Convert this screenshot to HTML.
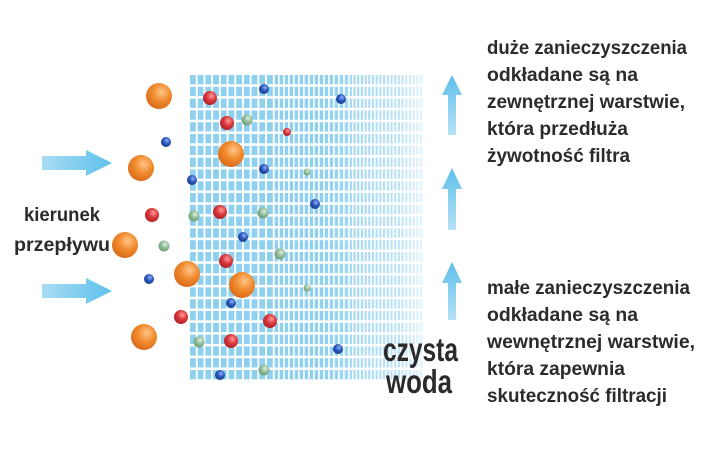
<!DOCTYPE html>
<html><head><meta charset="utf-8"><style>
html,body{margin:0;padding:0;background:#fff;width:720px;height:451px;overflow:hidden}
svg{display:block}
text{font-family:"Liberation Sans","DejaVu Sans",sans-serif;fill:#2b2b2b}
</style></head><body>
<svg id="s" width="720" height="451" xmlns="http://www.w3.org/2000/svg">
<defs>
<linearGradient id="ha" x1="0" x2="1"><stop offset="0" stop-color="#a8dcf3"/><stop offset="1" stop-color="#5ec0ea"/></linearGradient>
<linearGradient id="va" x1="0" y1="1" x2="0" y2="0"><stop offset="0" stop-color="#b5e1f5"/><stop offset="1" stop-color="#5ec0ea"/></linearGradient>
<linearGradient id="fade" x1="0" x2="1"><stop offset="0" stop-color="#fff" stop-opacity="0"/><stop offset="1" stop-color="#fff" stop-opacity="0.85"/></linearGradient>
<radialGradient id="go" cx="0.6" cy="0.35" r="0.7"><stop offset="0" stop-color="#ffc58a"/><stop offset="0.5" stop-color="#f08a2c"/><stop offset="1" stop-color="#d9691a"/></radialGradient>
<radialGradient id="gr" cx="0.6" cy="0.35" r="0.7"><stop offset="0" stop-color="#ff9a9a"/><stop offset="0.5" stop-color="#d8363a"/><stop offset="1" stop-color="#a8202a"/></radialGradient>
<radialGradient id="gb" cx="0.6" cy="0.35" r="0.7"><stop offset="0" stop-color="#8fb0ff"/><stop offset="0.5" stop-color="#2a56b8"/><stop offset="1" stop-color="#163a88"/></radialGradient>
<radialGradient id="gg" cx="0.6" cy="0.35" r="0.7"><stop offset="0" stop-color="#e0f0e0"/><stop offset="0.5" stop-color="#90bb98"/><stop offset="1" stop-color="#6a9a74"/></radialGradient>
</defs>
<g id="grid"></g>
<rect x="400" y="72" width="45" height="314" fill="url(#fade)"/>
<g fill="url(#ha)">
<polygon points="42,156 86,156 86,150 112,163 86,176 86,170 42,170"/>
<polygon points="42,284 86,284 86,278 112,291 86,304 86,298 42,298"/>
</g>
<g fill="url(#va)">
<polygon points="448,135 448,95 442,95 452,75 462,95 456,95 456,135"/>
<polygon points="448,230 448,189 442,189 452,168 462,189 456,189 456,230"/>
<polygon points="448,320 448,283 442,283 452,262 462,283 456,283 456,320"/>
</g>
<g id="p"></g>
<g font-size="19" font-weight="bold" lengthAdjust="spacingAndGlyphs">
<text x="24" y="221" textLength="76" lengthAdjust="spacingAndGlyphs">kierunek</text>
<text x="14" y="251" textLength="96" lengthAdjust="spacingAndGlyphs">przepływu</text>
<text x="487" y="54" textLength="200" lengthAdjust="spacingAndGlyphs">duże zanieczyszczenia</text>
<text x="487" y="81" textLength="151" lengthAdjust="spacingAndGlyphs">odkładane są na</text>
<text x="487" y="108" textLength="198" lengthAdjust="spacingAndGlyphs">zewnętrznej warstwie,</text>
<text x="487" y="135" textLength="141" lengthAdjust="spacingAndGlyphs">która przedłuża</text>
<text x="487" y="162" textLength="143" lengthAdjust="spacingAndGlyphs">żywotność filtra</text>
<text x="487" y="294" textLength="203" lengthAdjust="spacingAndGlyphs">małe zanieczyszczenia</text>
<text x="487" y="321" textLength="151" lengthAdjust="spacingAndGlyphs">odkładane są na</text>
<text x="487" y="348" textLength="208" lengthAdjust="spacingAndGlyphs">wewnętrznej warstwie,</text>
<text x="487" y="375" textLength="138" lengthAdjust="spacingAndGlyphs">która zapewnia</text>
<text x="487" y="402" textLength="180" lengthAdjust="spacingAndGlyphs">skuteczność filtracji</text>
</g>
<text x="383" y="361" font-size="33" font-weight="bold" textLength="75" lengthAdjust="spacingAndGlyphs">czysta</text>
<text x="386" y="393" font-size="33" font-weight="bold" textLength="66" lengthAdjust="spacingAndGlyphs">woda</text>
</svg>
<script>
var g=document.getElementById("grid"),h="";
var cols=[],x=190;
while(x<420){var p,w;if(x<272){p=7.7;w=5.8}else if(x<345){p=5;w=3.4}else{p=3.7;w=2.2}
var o=x<320?1:Math.max(0.45,1-(x-320)/180);cols.push([x,w,o]);x+=p;}
for(var r=0;r<26;r++){var y=75+r*11.8;cols.forEach(function(c){h+='<rect x="'+c[0].toFixed(1)+'" y="'+y.toFixed(1)+'" width="'+c[1]+'" height="9.3" fill="#8fd0ef" opacity="'+c[2].toFixed(2)+'"/>';});}
g.innerHTML=h;
var P=[["go",13,[[159,96],[141,168],[125,245],[187,274],[242,285],[144,337],[231,154]]],
["gr",7,[[210,98],[227,123],[152,215],[220,212],[226,261],[181,317],[270,321],[231,341]]],
["gr",4,[[287,132]]],
["gb",5,[[264,89],[341,99],[166,142],[192,180],[264,169],[315,204],[243,237],[149,279],[231,303],[220,375],[338,349]]],
["gg",5.5,[[247,120],[194,216],[263,213],[164,246],[280,254],[199,342],[264,370]]],
["gg",3.5,[[307,172],[307,288]]]];
var s="";P.forEach(function(q){q[2].forEach(function(c){s+='<circle cx="'+c[0]+'" cy="'+c[1]+'" r="'+q[1]+'" fill="url(#'+q[0]+')"/>';});});
document.getElementById("p").innerHTML=s;
</script>
</body></html>
